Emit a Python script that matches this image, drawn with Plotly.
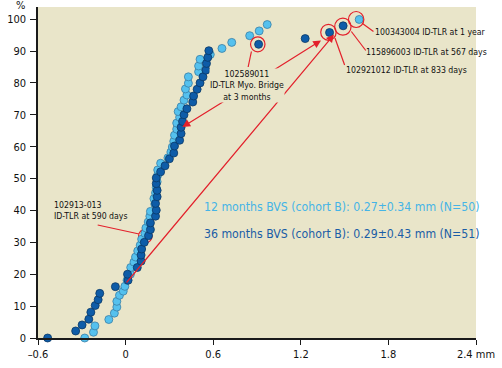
import plotly.graph_objects as go

# ---- data ----
light_x = [-0.28, -0.22, -0.21, -0.115, -0.077, -0.06, -0.06, -0.042, -0.016, -0.005,
           0.01, 0.033, 0.035, 0.057, 0.068, 0.083, 0.10, 0.11, 0.132, 0.139,
           0.155, 0.166, 0.17, 0.20, 0.194, 0.205, 0.21,
           0.216, 0.22, 0.22, 0.24, 0.29, 0.31, 0.32, 0.33, 0.335, 0.35,
           0.35, 0.37, 0.36, 0.38, 0.40, 0.42, 0.41, 0.43, 0.43, 0.50, 0.50, 0.51,
           0.58, 0.66, 0.727, 0.85, 0.915, 0.97, 1.6]
light_y = [0, 1.8, 3.8, 5.8, 7.8, 9.7, 11.5, 13.4, 14.7, 16.2,
           18.1, 20.0, 22.1, 23.8, 25.4, 27.3, 29.1, 31.0, 32.8, 34.5,
           36.4, 38.2, 39.7, 42.0, 43.7, 45.5, 47.2,
           49.0, 51.1, 52.7, 54.8, 56.5, 58.3, 59.9, 61.7, 63.6, 65.5,
           67.4, 69.2, 71.0, 72.5, 74.6, 76.2, 78.1, 79.9, 81.9, 83.5, 85.3, 87.4,
           88.9, 90.8, 92.7, 94.8, 96.3, 98.3, 99.9]

dark_x = [-0.534, -0.342, -0.298, -0.252, -0.238, -0.208, -0.188, -0.177, -0.07, 0.017,
          0.013, 0.08, 0.106, 0.106, 0.11, 0.128, 0.157, 0.17, 0.17, 0.205,
          0.21, 0.205, 0.216, 0.216, 0.21,
          0.21, 0.24, 0.27, 0.30, 0.33, 0.335, 0.37, 0.38, 0.38, 0.39,
          0.40, 0.42, 0.46, 0.466, 0.49, 0.51, 0.53, 0.55, 0.554, 0.563, 0.57,
          0.911, 1.23, 1.397, 1.49]
dark_y = [0, 2.2, 4.1, 5.9, 8.1, 10.2, 12.0, 14.0, 16.1, 18.1,
          20.0, 22.1, 24.1, 26.0, 27.9, 30.0, 32.1, 34.0, 36.1, 38.2,
          40.1, 42.2, 44.3, 46.3, 48.4,
          50.2, 52.1, 54.0, 56.2, 58.0, 60.2, 62.0, 64.1, 66.1, 67.9,
          70.0, 71.9, 74.0, 75.9, 78.0, 80.0, 81.9, 84.0, 86.1, 88.0, 90.1,
          92.1, 93.9, 95.8, 97.9]

x_ticks = [-0.6, 0, 0.6, 1.2, 1.8, 2.4]
x_ticklabels = ["\u20130.6", "0", "0.6", "1.2", "1.8", "2.4 mm"]
y_ticks = [0, 10, 20, 30, 40, 50, 60, 70, 80, 90, 100]

legend_12 = "12 months BVS (cohort B): 0.27\u00b10.34 mm (N=50)"
legend_36 = "36 months BVS (cohort B): 0.29\u00b10.43 mm (N=51)"

# ---- layout geometry ----
W, H = 502, 368
ML, MR, MT, MB = 30, 17, 7, 30
XR = [-0.6, 2.4]
YR = [0, 103.8]
PW, PH = W - ML - MR, H - MT - MB


def P(px, py):
    """pixel -> data coordinates"""
    x = XR[0] + (px - ML) / PW * (XR[1] - XR[0])
    y = YR[0] + (H - MB - py) / PH * (YR[1] - YR[0])
    return x, y


RED = "#E3202B"
BG = "#E9E5C9"
LIGHT = "#55C1EE"
DARK = "#0E5CA8"
FONT = "DejaVu Sans Condensed, Liberation Sans Narrow, Arial Narrow, sans-serif"
SMALL = 8.7

fig = go.Figure()
fig.add_trace(go.Scatter(x=light_x, y=light_y, mode="markers", cliponaxis=False,
                         marker=dict(size=8, color=LIGHT, line=dict(color="#3a7fa6", width=0.8))))
fig.add_trace(go.Scatter(x=dark_x, y=dark_y, mode="markers", cliponaxis=False,
                         marker=dict(size=8, color=DARK, line=dict(color="#0a3866", width=0.8))))

shapes = []


def circle(px, py, r, layer="above"):
    x0, y0 = P(px - r, py + r)
    x1, y1 = P(px + r, py - r)
    shapes.append(dict(type="circle", xref="x", yref="y", x0=x0, y0=y0, x1=x1, y1=y1,
                       line=dict(color=RED, width=1.2), layer=layer))


def seg(p1, p2):
    x0, y0 = P(*p1)
    x1, y1 = P(*p2)
    shapes.append(dict(type="line", xref="x", yref="y", x0=x0, y0=y0, x1=x1, y1=y1,
                       line=dict(color=RED, width=1.2)))


circle(258.3, 44.3, 7.5)
circle(331.7, 32.3, 8)
circle(346.7, 26.7, 8.5)
circle(360.5, 19.5, 8)
circle(141.5, 236, 7, layer="below")

seg((366.7, 23.3), (378.5, 31.5))
seg((355.5, 31.5), (370.5, 50.5))
seg((338.5, 38), (348.5, 65))
seg((251.7, 51.5), (248.3, 67))
seg((92, 225), (135, 234))

annotations = []


def arrow(tail, tip):
    tx, ty = P(*tip)
    ax, ay = P(*tail)
    annotations.append(dict(x=tx, y=ty, ax=ax, ay=ay, xref="x", yref="y", axref="x", ayref="y",
                            text="", showarrow=True, arrowhead=2, arrowsize=1.3, arrowwidth=1.2,
                            arrowcolor=RED, standoff=0, startstandoff=0))


arrow((120.7, 284), (337.5, 34.5))
arrow((247, 87), (324, 40.5))
arrow((247, 87), (180, 127))


def label(px, py, text, size=SMALL, color="#111111", xanchor="left", align="left", bg=None):
    x, y = P(px, py)
    d = dict(x=x, y=y, xref="x", yref="y", text=text, showarrow=False, xanchor=xanchor,
             yanchor="middle", align=align, font=dict(family=FONT, size=size, color=color),
             borderpad=0)
    if bg:
        d["bgcolor"] = bg
    annotations.append(d)


label(247, 85.5, "102589011<br>ID-TLR Myo. Bridge<br>at 3 months", xanchor="center", align="center", bg=BG)
label(379, 32, "100343004 ID-TLR at 1 year")
label(369.5, 52, "115896003 ID-TLR at 567 days")
label(348.5, 70, "102921012 ID-TLR at 833 days")
label(45.5, 210.5, "102913-013<br>ID-TLR at 590 days")
label(201, 207, legend_12, size=12.2, color="#45B4E6")
label(201, 234, legend_36, size=12.2, color="#1A5DA6")

# "%" unit label above the y axis (paper coords = plot-area fraction)
annotations.append(dict(x=(11.5 - ML) / PW, y=(H - MB - 6) / PH, xref="paper", yref="paper",
                        text="%", showarrow=False, xanchor="center", yanchor="middle",
                        font=dict(family=FONT, size=11, color="#111111")))

fig.update_layout(
    width=W, height=H, margin=dict(l=ML, r=MR, t=MT, b=MB),
    plot_bgcolor=BG, paper_bgcolor="white", showlegend=False,
    font=dict(family=FONT, size=11, color="#111111"),
    shapes=shapes, annotations=annotations,
    xaxis=dict(range=XR, tickvals=x_ticks, ticktext=x_ticklabels, ticks="outside", ticklen=5,
               tickwidth=1.2, tickcolor="#1a1a1a", showline=True, linecolor="#1a1a1a", linewidth=1.5,
               showgrid=False, zeroline=False, tickfont=dict(size=11), ticklabeloverflow="allow"),
    yaxis=dict(range=YR, tickvals=y_ticks, ticks="outside", ticklen=6, tickwidth=1.2,
               tickcolor="#1a1a1a", showline=True, linecolor="#1a1a1a", linewidth=1.5,
               showgrid=False, zeroline=False, tickfont=dict(size=11), ticklabelstandoff=2),
)

fig.write_html("out.html", config={"displayModeBar": False},
               post_script="document.body.style.margin='0';")
